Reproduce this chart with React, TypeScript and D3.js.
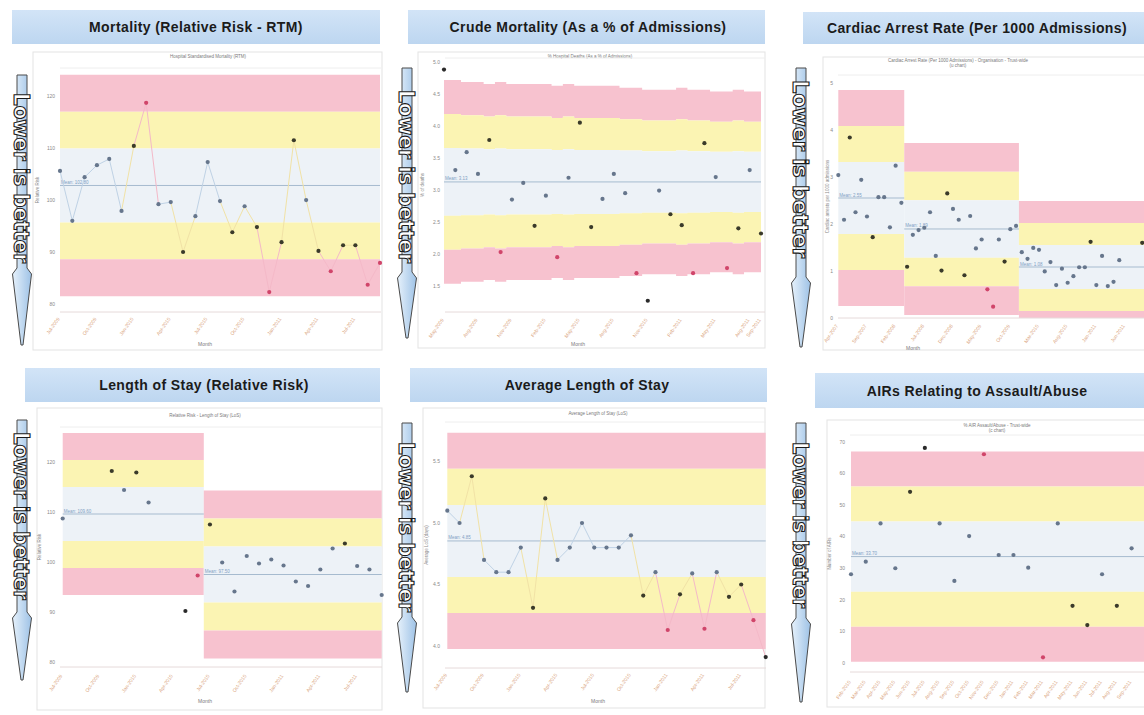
import React from "react";
import * as d3 from "d3";

// ---------- categories ----------
const MONTHS = [
  "Apr-2007", "May-2007", "Jun-2007", "Jul-2007", "Aug-2007", "Sep-2007", "Oct-2007", "Nov-2007", "Dec-2007",
  "Jan-2008", "Feb-2008", "Mar-2008", "Apr-2008", "May-2008", "Jun-2008", "Jul-2008", "Aug-2008", "Sep-2008",
  "Oct-2008", "Nov-2008", "Dec-2008", "Jan-2009", "Feb-2009", "Mar-2009", "Apr-2009", "May-2009", "Jun-2009",
  "Jul-2009", "Aug-2009", "Sep-2009", "Oct-2009", "Nov-2009", "Dec-2009", "Jan-2010", "Feb-2010", "Mar-2010",
  "Apr-2010", "May-2010", "Jun-2010", "Jul-2010", "Aug-2010", "Sep-2010", "Oct-2010", "Nov-2010", "Dec-2010",
  "Jan-2011", "Feb-2011", "Mar-2011", "Apr-2011", "May-2011", "Jun-2011", "Jul-2011", "Aug-2011", "Sep-2011",
];

// ---------- 1. Mortality (Relative Risk - RTM) ----------
const mortalityRR = [105.6, 96.0, 104.4, 106.7, 107.9, 97.9, 110.4, 118.7, 99.2, 99.6, 90.0, 96.9, 107.3, 99.8,
  93.8, 98.8, 94.8, 82.3, 91.9, 111.5, 100.0, 90.2, 86.3, 91.3, 91.3, 83.7, 87.9];
const mortalitySegStarts = [0];
const mortalityMeans = [102.8];
const mortalitySigmas = [7.1];
const mortalityTicks = [80, 90, 100, 110, 120];

// ---------- 2. Crude Mortality (% of admissions) ----------
const crudeMortality = [4.88, 3.31, 3.59, 3.25, 3.78, 2.03, 2.85, 3.11, 2.44, 2.91, 1.95, 3.19, 4.05, 2.42, 2.86,
  3.25, 2.95, 1.70, 1.27, 2.99, 2.62, 2.45, 1.70, 3.73, 3.20, 1.78, 2.40, 3.31, 2.32];
const crudeSegStarts = [0];
const crudeMeans = [3.125];
const crudeSigmaByMonth = [0.53, 0.53, 0.52, 0.52, 0.51, 0.52, 0.51, 0.51, 0.51, 0.51, 0.5, 0.51, 0.5, 0.5, 0.5,
  0.5, 0.49, 0.49, 0.48, 0.48, 0.48, 0.49, 0.48, 0.48, 0.47, 0.47, 0.48, 0.47, 0.47];
const crudeTicks = [1.5, 2, 2.5, 3, 3.5, 4, 4.5, 5];

// ---------- 3. Cardiac Arrest Rate (per 1000 admissions) ----------
const cardiacArrest = [3.04, 2.09, 3.84, 2.25, 2.94, 2.16, 1.72, 2.57, 2.57, 1.93, 3.24, 2.45,
  1.09, 1.77, 1.87, 1.92, 2.25, 1.32, 1.01, 2.65, 2.32, 2.09, 0.91, 2.17, 1.48, 1.67, 0.61, 0.24, 1.67, 1.2, 1.89, 1.96,
  1.4, 1.26, 1.49, 1.45, 0.99, 1.19, 0.7, 1.05, 0.75, 0.89, 1.08, 1.08, 1.62, 0.7, 1.32, 0.68, 0.77, 1.23, null, null, null, 1.6];
const cardiacSegStarts = [0, 12, 32];
const cardiacMeans = [2.553, 1.894, 1.085];
const cardiacSigmas = [0.766, 0.61, 0.468];
const cardiacTicks = [0, 1, 2, 3, 4, 5];

// ---------- 4. Length of Stay (Relative Risk) ----------
const losRR = [108.7, null, null, null, 118.2, 114.4, 117.9, 111.9, null, null, 90.2, 97.3,
  107.5, 99.9, 94.1, 101.2, 99.7, 100.5, 99.3, 96.1, 95.2, 98.5, 102.7, 103.7, 99.2, 98.5, 93.4];
const losSegStarts = [0, 12];
const losMeans = [109.6, 97.5];
const losSigmas = [5.4, 5.6];
const losTicks = [80, 90, 100, 110, 120];

// ---------- 5. Average Length of Stay ----------
const alos = [5.1, 5.0, 5.38, 4.7, 4.6, 4.6, 4.8, 4.31, 5.2, 4.7, 4.8, 5.0, 4.8, 4.8, 4.8, 4.9, 4.41, 4.6, 4.13,
  4.42, 4.59, 4.14, 4.6, 4.4, 4.5, 4.21, 3.91];
const alosSegStarts = [0];
const alosMeans = [4.854];
const alosSigmas = [0.293];
const alosTicks = [4, 4.5, 5, 5.5];

// ---------- 6. AIRs Relating to Assault/Abuse ----------
const airs = [28.1, 32.1, 44.2, 30.0, 54.2, 68.1, 44.2, 26.0, 40.2, 66.1, 34.2, 34.2, 30.2, 1.8, 44.2, 18.1, 12.0,
  28.1, 18.1, 36.3];
const airsSegStarts = [0];
const airsMeans = [33.7];
const airsSigmas = [11.1];
const airsTicks = [0, 10, 20, 30, 40, 50, 60, 70];

// ---------- styles ----------
const PINK = "#f7c2cf";
const YELLOW = "#fbf4b3";
const BLUE = "#edf2f7";
const FONT = "'Liberation Sans', Arial, sans-serif";

type Cfg = {
  title: string;
  titleX: number;
  banner: [number, number, number, number];
  arrow: { cx: number; top: number; headStart: number; tip: number; t0: number; t1: number };
  frame: [number, number, number, number];
  chartTitle: string[];
  chartTitleX: number;
  chartTitleY: number;
  yLabel: string;
  yLabelX: number;
  plot: { x0: number; x1: number; y0: number; y1: number };
  domain: [number, number];
  ticks: number[];
  fmt: (v: number) => string;
  values: (number | null)[];
  firstX: number;
  lastX: number;
  bandRight?: number;
  segStarts: number[];
  means: number[];
  sigmas?: number[];
  sigmaByPoint?: number[];
  line: boolean;
  labelEvery: number;
  labelLast?: boolean;
  labelDy: number;
  xTitle?: [number, number];
};

const panels: Cfg[] = [
  {
    title: "Mortality (Relative Risk - RTM)", titleX: 196, banner: [12, 10, 368, 34],
    arrow: { cx: 22, top: 75, headStart: 268, tip: 345, t0: 93, t1: 263 },
    frame: [33, 52, 349, 298], chartTitle: ["Hospital Standardised Mortality (RTM)"], chartTitleX: 208, chartTitleY: 58,
    yLabel: "Relative Risk", yLabelX: 39,
    plot: { x0: 60, x1: 381, y0: 68, y1: 312 }, domain: [78.46, 125.4], ticks: mortalityTicks, fmt: d3.format("d"),
    values: mortalityRR, firstX: 60, lastX: 380, segStarts: mortalitySegStarts, means: mortalityMeans,
    sigmas: mortalitySigmas, line: true, labelEvery: 3, labelDy: 7, xTitle: [205, 346],
  },
  {
    title: "Crude Mortality (As a % of Admissions)", titleX: 588, banner: [408, 10, 357, 34],
    arrow: { cx: 407, top: 68, headStart: 272, tip: 338, t0: 90, t1: 263 },
    frame: [418, 52, 347, 296], chartTitle: ["% Hospital Deaths (As a % of Admissions)"], chartTitleX: 590, chartTitleY: 58,
    yLabel: "% of deaths", yLabelX: 424,
    plot: { x0: 445, x1: 765, y0: 58, y1: 312 }, domain: [1.094, 5.06], ticks: crudeTicks, fmt: d3.format(".1f"),
    values: crudeMortality, firstX: 444, lastX: 761, segStarts: crudeSegStarts, means: crudeMeans,
    sigmaByPoint: crudeSigmaByMonth, line: false, labelEvery: 3, labelLast: true, labelDy: 8, xTitle: [578, 346],
  },
  {
    title: "Cardiac Arrest Rate (Per 1000 Admissions)", titleX: 977, banner: [803, 12, 350, 32],
    arrow: { cx: 801, top: 68, headStart: 277, tip: 347, t0: 80, t1: 258 },
    frame: [823, 57, 330, 293], chartTitle: ["Cardiac Arrest Rate (Per 1000 Admissions) - Organisation - Trust-wide", "(u chart)"],
    chartTitleX: 958, chartTitleY: 62,
    yLabel: "Cardiac arrests per 1000 admissions", yLabelX: 829,
    plot: { x0: 838, x1: 1150, y0: 75, y1: 318 }, domain: [0, 5.17], ticks: cardiacTicks, fmt: d3.format("d"),
    values: cardiacArrest, firstX: 838.3, lastX: 1142.2, bandRight: 1150, segStarts: cardiacSegStarts,
    means: cardiacMeans, sigmas: cardiacSigmas, line: false, labelEvery: 5, labelDy: 8, xTitle: [913, 350],
  },
  {
    title: "Length of Stay (Relative Risk)", titleX: 204, banner: [25, 368, 355, 34],
    arrow: { cx: 22, top: 420, headStart: 612, tip: 680, t0: 432, t1: 600 },
    frame: [37, 408, 345, 302], chartTitle: ["Relative Risk - Length of Stay (LoS)"], chartTitleX: 205, chartTitleY: 417,
    yLabel: "Relative Risk", yLabelX: 41,
    plot: { x0: 60, x1: 382, y0: 427, y1: 667 }, domain: [79, 127], ticks: losTicks, fmt: d3.format("d"),
    values: losRR, firstX: 62.7, lastX: 381.7, segStarts: losSegStarts, means: losMeans, sigmas: losSigmas,
    line: false, labelEvery: 3, labelDy: 9, xTitle: [205, 703],
  },
  {
    title: "Average Length of Stay", titleX: 587, banner: [410, 368, 357, 34],
    arrow: { cx: 407, top: 423, headStart: 617, tip: 692, t0: 442, t1: 612 },
    frame: [423, 408, 342, 300], chartTitle: ["Average Length of Stay (LoS)"], chartTitleX: 598, chartTitleY: 415,
    yLabel: "Average LoS (days)", yLabelX: 428,
    plot: { x0: 445, x1: 766, y0: 422, y1: 668 }, domain: [3.821, 5.821], ticks: alosTicks, fmt: d3.format(".1f"),
    values: alos, firstX: 447.3, lastX: 765.7, segStarts: alosSegStarts, means: alosMeans, sigmas: alosSigmas,
    line: true, labelEvery: 3, labelDy: 7, xTitle: [598, 703],
  },
  {
    title: "AIRs Relating to Assault/Abuse", titleX: 977, banner: [815, 373, 340, 35],
    arrow: { cx: 801, top: 423, headStart: 618, tip: 702, t0: 442, t1: 608 },
    frame: [827, 420, 330, 287], chartTitle: ["% AIR Assault/Abuse - Trust-wide", "(c chart)"], chartTitleX: 997, chartTitleY: 427,
    yLabel: "Number of AIRs", yLabelX: 831,
    plot: { x0: 850, x1: 1150, y0: 435, y1: 672 }, domain: [-2.85, 72.2], ticks: airsTicks, fmt: d3.format("d"),
    values: airs, firstX: 851, lastX: 1131.6, bandRight: 1150, segStarts: airsSegStarts, means: airsMeans,
    sigmas: airsSigmas, line: false, labelEvery: 1, labelDy: 10,
  },
];

function Arrow({ a }: { a: Cfg["arrow"] }) {
  const { cx, top, headStart, tip, t0, t1 } = a;
  const w = 5;
  const hw = 9.5;
  const d = `M${cx - w},${top} L${cx + w},${top} L${cx + w},${headStart} L${cx + hw},${headStart + 6} L${cx + 1},${tip} L${cx - 1},${tip} L${cx - hw},${headStart + 6} L${cx - w},${headStart} Z`;
  return (
    <g>
      <path d={d} fill="url(#arrowGrad)" stroke="#4a4a4a" strokeWidth={1} />
      <text
        transform={`translate(${cx},${t0}) rotate(90)`}
        dy="0.36em"
        fontSize={22}
        fontFamily="'DejaVu Sans', sans-serif"
        fontWeight="bold"
        fill="#ffffff"
        stroke="#1a1a1a"
        strokeWidth={1.1}
        textLength={t1 - t0}
        lengthAdjust="spacingAndGlyphs"
      >
        Lower is better
      </text>
    </g>
  );
}

function zoneOf(v: number, m: number, s: number) {
  const z = Math.abs(v - m) / s;
  return z <= 1 ? 0 : z <= 2 ? 1 : z <= 3 ? 2 : 3;
}
const DOT = ["#66768c", "#3a3a2a", "#d0456a", "#2a2a2a"];
const SEG = ["#bfd2e5", "#f1e2a6", "#f4b9c8", "#f4b9c8"];

function Panel({ c }: { c: Cfg }) {
  const n = c.values.length;
  const months = MONTHS.slice(MONTHS.length - n);
  const x = d3.scaleLinear().domain([0, n - 1]).range([c.firstX, c.lastX]);
  const y = d3.scaleLinear().domain(c.domain).range([c.plot.y1, c.plot.y0]);
  const yc = y.copy().clamp(true);
  const segOf = (i: number) => {
    let s = 0;
    c.segStarts.forEach((st, k) => {
      if (i >= st) s = k;
    });
    return s;
  };
  const meanAt = (i: number) => c.means[segOf(i)];
  const sigmaAt = (i: number) => (c.sigmaByPoint ? c.sigmaByPoint[i] : c.sigmas![segOf(i)]);
  const left = (i: number) => (i === 0 ? x(0) : (x(i - 1) + x(i)) / 2);
  const right = (i: number) => (i === n - 1 ? c.bandRight ?? x(n - 1) : (x(i) + x(i + 1)) / 2);
  const segs = c.segStarts.map((st, k) => [st, k < c.segStarts.length - 1 ? c.segStarts[k + 1] - 1 : n - 1]);
  const bandDefs: [number, number, string][] = [
    [2, 3, PINK], [1, 2, YELLOW], [-1, 1, BLUE], [-2, -1, YELLOW], [-3, -2, PINK],
  ];

  type BP = { x: number; i: number };
  const bandPaths: { d: string; fill: string }[] = [];
  segs.forEach(([a, b]) => {
    const pts: BP[] = [];
    for (let i = a; i <= b; i++) {
      pts.push({ x: left(i), i });
      pts.push({ x: right(i), i });
    }
    bandDefs.forEach(([lo, hi, fill]) => {
      const area = d3
        .area<BP>()
        .x((p) => p.x)
        .y0((p) => yc(meanAt(p.i) + lo * sigmaAt(p.i)))
        .y1((p) => yc(meanAt(p.i) + hi * sigmaAt(p.i)));
      bandPaths.push({ d: area(pts) || "", fill });
    });
  });

  const labelIdx: number[] = [];
  for (let i = 0; i < n; i += c.labelEvery) labelIdx.push(i);
  if (c.labelLast && labelIdx[labelIdx.length - 1] !== n - 1) labelIdx.push(n - 1);

  const pts = c.values.map((v, i) => ({ v, i })).filter((p) => p.v !== null) as { v: number; i: number }[];
  const lineSegs: { x1: number; y1: number; x2: number; y2: number; col: string }[] = [];
  if (c.line) {
    for (let k = 1; k < pts.length; k++) {
      const p = pts[k - 1];
      const q = pts[k];
      const z = Math.max(zoneOf(p.v, meanAt(p.i), sigmaAt(p.i)), zoneOf(q.v, meanAt(q.i), sigmaAt(q.i)));
      lineSegs.push({ x1: x(p.i), y1: y(p.v), x2: x(q.i), y2: y(q.v), col: SEG[z] });
    }
  }

  const [bx, by, bw, bh] = c.banner;
  const [fx, fy, fw, fh] = c.frame;
  return (
    <g>
      {/* banner */}
      <rect x={bx} y={by} width={bw} height={bh} fill="url(#bannerGrad)" />
      <text x={c.titleX} y={by + bh / 2} dy="0.36em" textAnchor="middle" fontFamily={FONT} fontWeight="bold"
        fontSize={14} letterSpacing={0.4} fill="#1b1b1b">{c.title}</text>

      {/* frame */}
      <rect x={fx} y={fy} width={fw} height={fh} fill="#ffffff" stroke="#e3e3e3" strokeWidth={1} />
      {c.chartTitle.map((t, k) => (
        <text key={k} x={c.chartTitleX} y={c.chartTitleY + k * 5} textAnchor="middle" fontFamily={FONT}
          fontSize={4.5} fill="#7a7a7a">{t}</text>
      ))}

      {/* bands */}
      {bandPaths.map((b, k) => (
        <path key={k} d={b.d} fill={b.fill} />
      ))}
      {/* mean lines */}
      {segs.map(([a, b], k) => (
        <g key={k}>
          <line x1={left(a)} x2={right(b)} y1={y(meanAt(a))} y2={y(meanAt(a))} stroke="#a6bbcf" strokeWidth={1} />
          <text x={left(a) + 1} y={y(meanAt(a)) - 1.5} fontFamily={FONT} fontSize={4.5} fill="#7f9fc4">
            {"Mean: " + d3.format(".2f")(meanAt(a))}
          </text>
        </g>
      ))}

      {/* plot border */}
      <line x1={c.plot.x0} x2={c.plot.x1} y1={c.plot.y1} y2={c.plot.y1} stroke="#e6dada" strokeWidth={1} />
      <line x1={c.plot.x0} x2={c.plot.x1} y1={c.plot.y0} y2={c.plot.y0} stroke="#eeeeee" strokeWidth={1} />

      {/* y ticks */}
      {c.ticks.map((t) => (
        <text key={t} x={c.plot.x0 - 5} y={y(t)} dy="0.35em" textAnchor="end" fontFamily={FONT} fontSize={5}
          fill="#8a8a8a">{c.fmt(t)}</text>
      ))}
      <text transform={`translate(${c.yLabelX},${(c.plot.y0 + c.plot.y1) / 2}) rotate(-90)`} textAnchor="middle"
        fontFamily={FONT} fontSize={4.5} fill="#8a8a8a">{c.yLabel}</text>

      {/* x labels */}
      {labelIdx.map((i) => (
        <text key={i} transform={`translate(${x(i)},${c.plot.y1 + c.labelDy}) rotate(-55)`} textAnchor="end"
          fontFamily={FONT} fontSize={5} fill="#d9a37c">{months[i]}</text>
      ))}
      {c.xTitle && (
        <text x={c.xTitle[0]} y={c.xTitle[1]} textAnchor="middle" fontFamily={FONT} fontSize={5} fill="#7a7a7a">Month</text>
      )}

      {/* lines */}
      {lineSegs.map((s, k) => (
        <line key={k} x1={s.x1} y1={s.y1} x2={s.x2} y2={s.y2} stroke={s.col} strokeWidth={1} />
      ))}
      {/* points */}
      {pts.map((p) => (
        <circle key={p.i} cx={x(p.i)} cy={y(p.v)} r={2.1} fill={DOT[zoneOf(p.v, meanAt(p.i), sigmaAt(p.i))]} />
      ))}

      <Arrow a={c.arrow} />
    </g>
  );
}

export default function App() {
  return (
    <div style={{ position: "absolute", left: 0, top: 0, width: 1144, height: 715, overflow: "hidden", background: "#fff" }}>
      <svg width={1144} height={715} style={{ display: "block" }}>
        <defs>
          <linearGradient id="arrowGrad" x1="0" y1="0" x2="1" y2="0">
            <stop offset="0" stopColor="#e6f1fb" />
            <stop offset="1" stopColor="#9ec2e6" />
          </linearGradient>
          <linearGradient id="bannerGrad" x1="0" y1="0" x2="0" y2="1">
            <stop offset="0" stopColor="#d2e4f7" />
            <stop offset="1" stopColor="#bdd6f0" />
          </linearGradient>
        </defs>
        <rect x={0} y={0} width={1144} height={715} fill="#ffffff" />
        {panels.map((p, k) => (
          <Panel key={k} c={p} />
        ))}
      </svg>
    </div>
  );
}
